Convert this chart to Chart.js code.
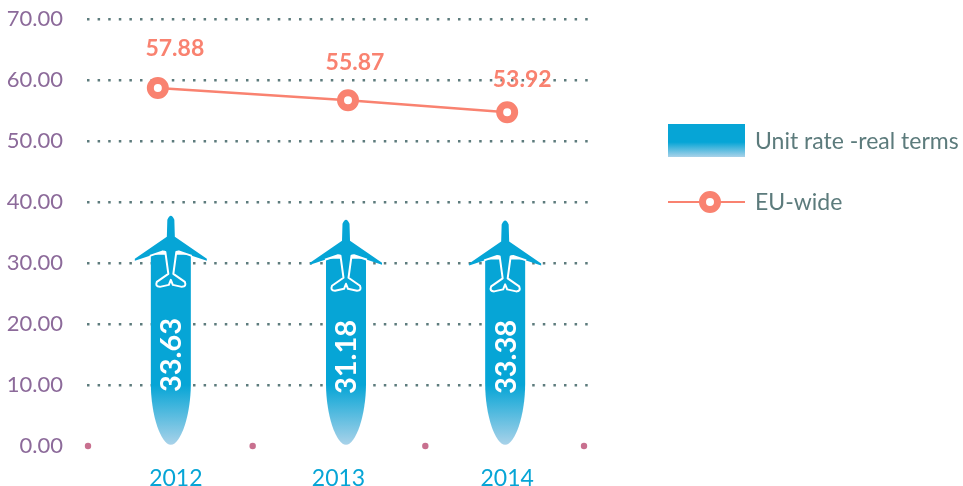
<!DOCTYPE html>
<html>
<head>
<meta charset="utf-8">
<title>Unit rate</title>
<script src="https://cdn.jsdelivr.net/npm/chart.js@4/dist/chart.umd.min.js"></script>
<style>
html,body{margin:0;padding:0;background:#fff;}
#wrap{position:relative;width:963px;height:486px;}
</style>
</head>
<body>
<div id="wrap"><canvas id="mychart"></canvas></div>
<script>
const years=['2012','2013','2014'];
const unitRate=[33.63,31.18,33.38];
const euWide=[57.88,55.87,53.92];
const seriesNames=['Unit rate -real terms','EU-wide'];

const BLUE='#06a5d6', PALE='#a9d2e9', CORAL='#f98270', SLATE='#5c7b7c', PURPLE='#8c6a9a', PINK='#c8708f';
const FONT='Lato, sans-serif';

// the source hand-placed its marks, so these nudge them off the even category spacing
const barShift=[0,7.5,-1];
const lineShift=[-13,9.5,1];
const tickShift=[5,0,1];
const dotShift=[1,-2,3,-6];
const planeLift=[26,37,23];
const labelShift=[[17,-39],[7,-38],[15,-33]];
const barTextY=[355,357,357];

function fade(ctx,top,bottom,from){
  let g=ctx.createLinearGradient(0,top,0,bottom);
  g.addColorStop(0,BLUE);
  g.addColorStop(from,BLUE);
  g.addColorStop(1,PALE);
  return g;
}

function drawPlane(ctx,x,top){
  ctx.save();
  ctx.translate(x,top);
  ctx.fillStyle=BLUE;
  ctx.beginPath();
  ctx.moveTo(-3.5,5);
  ctx.quadraticCurveTo(0,-3,3.5,5);
  ctx.lineTo(4,22);
  ctx.lineTo(36,44);
  ctx.lineTo(36,46);
  ctx.lineTo(6,36);
  ctx.lineTo(3,60);
  ctx.lineTo(-3,60);
  ctx.lineTo(-6,36);
  ctx.lineTo(-36,46);
  ctx.lineTo(-36,44);
  ctx.lineTo(-4,22);
  ctx.closePath();
  ctx.fill();
  ctx.strokeStyle='#fff';
  ctx.lineWidth=2;
  ctx.lineJoin='round';
  ctx.beginPath();
  ctx.moveTo(-21,41);
  ctx.lineTo(-8,36.5);
  ctx.lineTo(-5.5,37);
  ctx.lineTo(-2.5,59);
  ctx.lineTo(-14,67);
  ctx.quadraticCurveTo(-16,72,-11,72);
  ctx.lineTo(-2,70);
  ctx.lineTo(0,65);
  ctx.lineTo(2,70);
  ctx.lineTo(11,72);
  ctx.quadraticCurveTo(16,72,14,67);
  ctx.lineTo(2.5,59);
  ctx.lineTo(5.5,37);
  ctx.lineTo(8,36.5);
  ctx.lineTo(21,41);
  ctx.stroke();
  ctx.restore();
}

const markNudge={
  id:'markNudge',
  afterDatasetsUpdate(chart){
    chart.getDatasetMeta(0).data.forEach((el,i)=>{el.x+=barShift[i];});
    chart.getDatasetMeta(1).data.forEach((el,i)=>{el.x+=lineShift[i];});
  }
};

const axisDots={
  id:'axisDots',
  beforeDatasetsDraw(chart){
    let ctx=chart.ctx, x=chart.scales.x, y=chart.scales.y;
    ctx.save();
    ctx.fillStyle=PINK;
    dotShift.forEach((s,i)=>{
      ctx.beginPath();
      ctx.arc(x.getPixelForValue(i-0.5)+s,y.getPixelForValue(0),3.2,0,Math.PI*2);
      ctx.fill();
    });
    ctx.restore();
  }
};

const planeBars={
  id:'planeBars',
  afterDatasetDraw(chart,args){
    if(args.index!==0) return;
    let ctx=chart.ctx;
    args.meta.data.forEach((bar,i)=>{
      let half=bar.width/2, top=bar.y-planeLift[i]+40, base=bar.base;
      ctx.save();
      ctx.fillStyle=fade(ctx,top,base,(385-top)/(base-top));
      ctx.beginPath();
      ctx.moveTo(bar.x-half,top);
      ctx.lineTo(bar.x+half,top);
      ctx.lineTo(bar.x+half,base-61);
      ctx.bezierCurveTo(bar.x+half,base-30,bar.x+10,base,bar.x,base);
      ctx.bezierCurveTo(bar.x-10,base,bar.x-half,base-30,bar.x-half,base-61);
      ctx.closePath();
      ctx.fill();
      drawPlane(ctx,bar.x,bar.y-planeLift[i]);
      ctx.translate(bar.x+1,barTextY[i]);
      ctx.rotate(-Math.PI/2);
      ctx.fillStyle='#fff';
      ctx.font='700 29px '+FONT;
      ctx.textAlign='center';
      ctx.textBaseline='middle';
      ctx.fillText(unitRate[i].toFixed(2),0,0);
      ctx.restore();
    });
  }
};

const pointLabels={
  id:'pointLabels',
  afterDatasetsDraw(chart){
    let ctx=chart.ctx;
    ctx.save();
    ctx.fillStyle=CORAL;
    ctx.font='700 23px '+FONT;
    ctx.textAlign='center';
    ctx.textBaseline='middle';
    chart.getDatasetMeta(1).data.forEach((pt,i)=>{
      ctx.fillText(euWide[i].toFixed(2),pt.x+labelShift[i][0],pt.y+labelShift[i][1]);
    });
    ctx.restore();
  }
};

const sideLegend={
  id:'sideLegend',
  afterDraw(chart){
    let ctx=chart.ctx;
    ctx.save();
    ctx.fillStyle=fade(ctx,124,157,0.55);
    ctx.fillRect(668,124,77,33);
    ctx.strokeStyle=CORAL;
    ctx.lineWidth=2;
    ctx.beginPath();
    ctx.moveTo(668,202);
    ctx.lineTo(745,202);
    ctx.stroke();
    ctx.lineWidth=7;
    ctx.fillStyle='#fff';
    ctx.beginPath();
    ctx.arc(710,202,7.5,0,Math.PI*2);
    ctx.fill();
    ctx.stroke();
    ctx.fillStyle=SLATE;
    ctx.font='23px '+FONT;
    ctx.textBaseline='middle';
    ctx.fillText(seriesNames[0],755,142);
    ctx.fillText(seriesNames[1],755,203);
    ctx.restore();
  }
};

new Chart(document.getElementById('mychart'),{
  type:'bar',
  data:{
    labels:years,
    datasets:[
      {label:seriesNames[0],data:unitRate,backgroundColor:'rgba(0,0,0,0)',barThickness:40,order:2},
      {type:'line',label:seriesNames[1],data:euWide,yAxisID:'yLine',borderColor:CORAL,borderWidth:2.5,
       pointBackgroundColor:'#fff',pointBorderColor:CORAL,pointRadius:7.5,pointBorderWidth:7,tension:0,order:1}
    ]
  },
  options:{
    responsive:true,
    maintainAspectRatio:false,
    animation:false,
    layout:{padding:{left:0,right:373,top:19,bottom:0}},
    plugins:{legend:{display:false},tooltip:{enabled:false}},
    scales:{
      x:{
        grid:{display:false},
        border:{display:false},
        afterBuildTicks(scale){
          let base=scale.constructor.prototype.getPixelForTick;
          scale.getPixelForTick=function(i){return base.call(scale,i)+tickShift[i];};
        },
        afterFit(scale){scale.height=40;},
        ticks:{color:BLUE,font:{family:FONT,size:23},padding:11}
      },
      y:{
        min:0,max:70,
        afterFit(scale){scale.width=87;scale.paddingTop=0;scale.paddingBottom=0;},
        border:{display:false,dash:[2.5,8.1]},
        grid:{color:(c)=>c.tick&&c.tick.value===0?'rgba(0,0,0,0)':SLATE,lineWidth:2.5,drawTicks:false},
        ticks:{stepSize:10,color:PURPLE,font:{family:FONT,size:22},padding:24,callback:(v)=>v.toFixed(2)}
      },
      yLine:{display:false,min:-0.8,max:69.2}
    }
  },
  plugins:[markNudge,axisDots,planeBars,pointLabels,sideLegend]
});
</script>
</body>
</html>
